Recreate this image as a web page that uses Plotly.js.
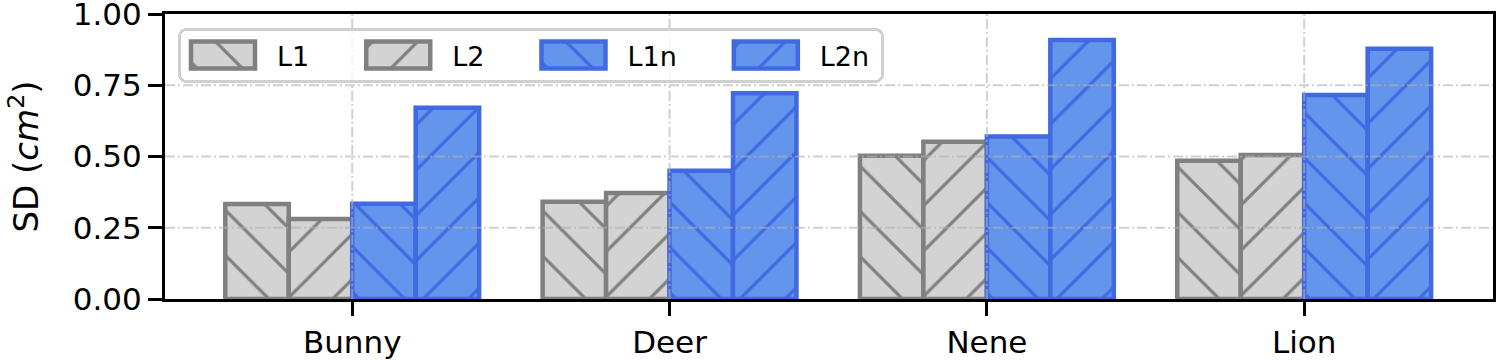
<!DOCTYPE html>
<html><head><meta charset="utf-8">
<script src="https://cdn.plot.ly/plotly-3.0.1.min.js"></script>
<style>html,body{margin:0;padding:0;background:#fff}</style>
</head><body><div id="chart" style="width:1500px;height:360px"></div>
<script>
const categories = ['Bunny', 'Deer', 'Nene', 'Lion'];
const seriesNames = ['L1', 'L2', 'L1n', 'L2n'];
const L1 = [0.333, 0.341, 0.503, 0.485];
const L2 = [0.281, 0.372, 0.552, 0.505];
const L1n = [0.334, 0.450, 0.570, 0.716];
const L2n = [0.671, 0.722, 0.909, 0.878];
const yTicks = [0, 0.25, 0.5, 0.75, 1.0];
const yTickLabels = ['0.00', '0.25', '0.50', '0.75', '1.00'];
const yGridVals = [0.25, 0.5, 0.75];

const seriesValues = [L1, L2, L1n, L2n];
const fills = ['#d3d3d3', '#d3d3d3', '#6495ed', '#6495ed'];
const edges = ['#808080', '#808080', '#4169e1', '#4169e1'];
const hatches = ['\\', '/', '\\', '/'];

const FONT = 'DejaVu Sans, sans-serif';
const traces = seriesNames.map((n, i) => ({
  type: 'bar', name: n, x: categories, y: seriesValues[i],
  marker: {
    color: fills[i],
    line: {color: edges[i], width: 4.5},
    pattern: {shape: hatches[i], fgcolor: edges[i], bgcolor: fills[i], size: 32, solidity: 0.1, fillmode: 'replace'}
  },
  hoverinfo: 'skip'
}));

const gridStyle = {color: 'rgba(176,176,176,0.6)', width: 2, dash: '10px,3px,2px,3px'};
const shapes = [];
categories.forEach(c => shapes.push({type: 'line', xref: 'x', yref: 'paper', x0: c, x1: c, y0: 0, y1: 1, line: gridStyle, layer: 'above'}));
yGridVals.forEach(v => shapes.push({type: 'line', xref: 'paper', yref: 'y', x0: 0, x1: 1, y0: v, y1: v, line: gridStyle, layer: 'above'}));

const layout = {
  width: 1500, height: 360,
  margin: {l: 165, r: 7, t: 14, b: 61},
  paper_bgcolor: '#fff', plot_bgcolor: '#fff',
  font: {family: FONT, color: '#000', size: 31},
  barmode: 'group', bargap: 0.2, bargroupgap: 0,
  showlegend: true,
  legend: {
    orientation: 'h', x: 0.0098, y: 0.951, xanchor: 'left', yanchor: 'top',
    bgcolor: 'rgba(255,255,255,0.8)', bordercolor: '#d0d0d0', borderwidth: 3,
    font: {family: FONT, size: 27, color: '#000'},
    itemwidth: 86, entrywidth: 74, entrywidthmode: 'pixels',
    traceorder: 'normal'
  },
  xaxis: {
    type: 'category', range: [-0.59, 3.595], fixedrange: true,
    showline: true, linecolor: '#000', linewidth: 3, mirror: true,
    ticks: 'outside', ticklen: 14, tickwidth: 3, tickcolor: '#000',
    showgrid: false, zeroline: false,
    tickfont: {family: FONT, size: 31, color: '#000'}
  },
  yaxis: {
    range: [0, 1], fixedrange: true,
    tickvals: yTicks, ticktext: yTickLabels, ticklabeloverflow: 'allow',
    showline: true, linecolor: '#000', linewidth: 3, mirror: true,
    ticks: 'outside', ticklen: 14, tickwidth: 3, tickcolor: '#000',
    showgrid: false, zeroline: false,
    tickfont: {family: FONT, size: 31, color: '#000'},
    title: {text: 'SD (<i>cm</i><sup>2</sup>)', font: {family: FONT, size: 34, color: '#000'}, standoff: 24}
  },
  shapes: shapes
};

Plotly.newPlot('chart', traces, layout, {staticPlot: true, displayModeBar: false}).then(gd => {
  const c = -6, hw = 32, hh = 13.5;
  const barTraces = gd.querySelectorAll('.barlayer .trace');
  const items = Array.from(gd.querySelectorAll('.legend .traces'));
  let nextX = null;
  items.forEach((t, i) => {
    const p = t.querySelector('.legendpoints path');
    if (p) {
      p.setAttribute('d', `M${c + hw},${hh}H${c - hw}V${-hh}H${c + hw}Z`);
      p.style.strokeWidth = '4.5px';
      const bp = barTraces[i] ? barTraces[i].querySelector('.point path') : null;
      if (bp && bp.style.fill) p.style.fill = bp.style.fill;
    }
    const tr = (t.getAttribute('transform') || '').match(/translate\(\s*([-\d.]+)[ ,]+([-\d.]+)/);
    if (!tr) return;
    const x = parseFloat(tr[1]), y = parseFloat(tr[2]);
    const txt = t.querySelector('text.legendtext');
    const tw = txt ? txt.getBBox().width : 0;
    const nx = nextX === null ? x : nextX;
    t.setAttribute('transform', `translate(${nx},${y})`);
    nextX = nx + 143 + tw;
  });
  const bg = gd.querySelector('.legend rect.bg');
  if (bg) { bg.setAttribute('rx', 7); bg.setAttribute('ry', 7); }
});
</script>
</body></html>
